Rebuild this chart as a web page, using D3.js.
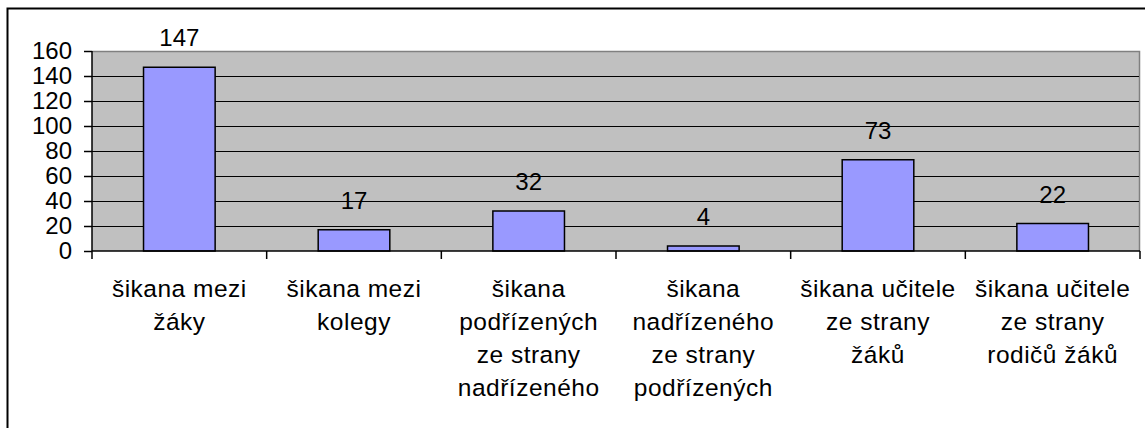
<!DOCTYPE html>
<html>
<head>
<meta charset="utf-8">
<script src="https://cdn.jsdelivr.net/npm/d3@7"></script>
<style>
  body { margin: 0; background: white; }
  text { font-family: "Liberation Sans", Arial, sans-serif; fill: black; }
</style>
</head>
<body>
<div id="chart"></div>
<script>
// chart data
const categories = [
  ["šikana mezi", "žáky"],
  ["šikana mezi", "kolegy"],
  ["šikana", "podřízených", "ze strany", "nadřízeného"],
  ["šikana", "nadřízeného", "ze strany", "podřízených"],
  ["šikana učitele", "ze strany", "žáků"],
  ["šikana učitele", "ze strany", "rodičů žáků"]
];
const values = [147, 17, 32, 4, 73, 22];
const yTicks = [0, 20, 40, 60, 80, 100, 120, 140, 160];

const width = 1145;
const height = 428;
const plot = { left: 92, right: 1140, top: 51, bottom: 251 };

const svg = d3.select("#chart").append("svg")
  .attr("width", width)
  .attr("height", height);

// outer frame (runs off the right and bottom edge like the original)
svg.append("rect")
  .attr("x", 7.5).attr("y", 8.5)
  .attr("width", 1160).attr("height", 440)
  .attr("fill", "white")
  .attr("stroke", "black")
  .attr("stroke-width", 2);

const x = d3.scaleBand()
  .domain(d3.range(values.length))
  .range([plot.left, plot.right])
  .paddingInner(0.59)
  .paddingOuter(0.295);

const y = d3.scaleLinear().domain([0, 160]).range([plot.bottom, plot.top]);

// plot background
svg.append("rect")
  .attr("x", plot.left).attr("y", plot.top)
  .attr("width", plot.right - plot.left).attr("height", plot.bottom - plot.top)
  .attr("fill", "#c0c0c0");
svg.append("path")
  .attr("d", `M${plot.left},${plot.top + 0.5}H${plot.right - 0.5}V${plot.bottom}`)
  .attr("fill", "none").attr("stroke", "#808080").attr("stroke-width", 1.5);

// gridlines
svg.selectAll(".grid")
  .data(yTicks.filter(d => d > 0 && d < 160))
  .enter().append("line")
  .attr("class", "grid")
  .attr("x1", plot.left).attr("x2", plot.right - 1)
  .attr("y1", d => Math.round(y(d)) + 0.5).attr("y2", d => Math.round(y(d)) + 0.5)
  .attr("stroke", "black").attr("stroke-width", 1);

// bars
svg.selectAll(".bar")
  .data(values)
  .enter().append("rect")
  .attr("class", "bar")
  .attr("x", (d, i) => x(i))
  .attr("y", d => y(d))
  .attr("width", x.bandwidth())
  .attr("height", d => plot.bottom - y(d))
  .attr("fill", "#9999ff")
  .attr("stroke", "black")
  .attr("stroke-width", 1.5);

// value labels
svg.selectAll(".val")
  .data(values)
  .enter().append("text")
  .attr("class", "val")
  .attr("x", (d, i) => x(i) + x.bandwidth() / 2)
  .attr("y", d => y(d) - 21)
  .attr("text-anchor", "middle")
  .attr("font-size", "24px")
  .text(d => d);

// y axis
const yAxis = svg.append("g")
  .attr("transform", `translate(${plot.left},0)`)
  .call(d3.axisLeft(y).tickValues(yTicks).tickSize(8).tickPadding(12));
yAxis.selectAll("path, line").attr("stroke", "black").attr("stroke-width", 1.5);
yAxis.select(".domain").attr("d", `M0,${plot.top}V${plot.bottom}`);
yAxis.selectAll("text").attr("font-size", "24px").attr("font-family", "Liberation Sans, Arial, sans-serif").attr("fill", "black");

// x axis line and ticks at category boundaries
svg.append("line")
  .attr("x1", plot.left).attr("x2", plot.right)
  .attr("y1", plot.bottom).attr("y2", plot.bottom)
  .attr("stroke", "black").attr("stroke-width", 1.5);
svg.selectAll(".xtick")
  .data(d3.range(values.length + 1))
  .enter().append("line")
  .attr("class", "xtick")
  .attr("x1", i => plot.left + i * (plot.right - plot.left) / values.length)
  .attr("x2", i => plot.left + i * (plot.right - plot.left) / values.length)
  .attr("y1", plot.bottom).attr("y2", plot.bottom + 8)
  .attr("stroke", "black").attr("stroke-width", 1.5);

// category labels
const labels = svg.selectAll(".cat")
  .data(categories)
  .enter().append("text")
  .attr("class", "cat")
  .attr("text-anchor", "middle")
  .attr("font-size", "24.5px")
  .attr("letter-spacing", "0.5px");
labels.selectAll("tspan")
  .data((d, i) => d.map(line => ({ line, i })))
  .enter().append("tspan")
  .attr("x", d => x(d.i) + x.bandwidth() / 2)
  .attr("y", (d, j) => 297 + j * 33)
  .text(d => d.line);
</script>
</body>
</html>
